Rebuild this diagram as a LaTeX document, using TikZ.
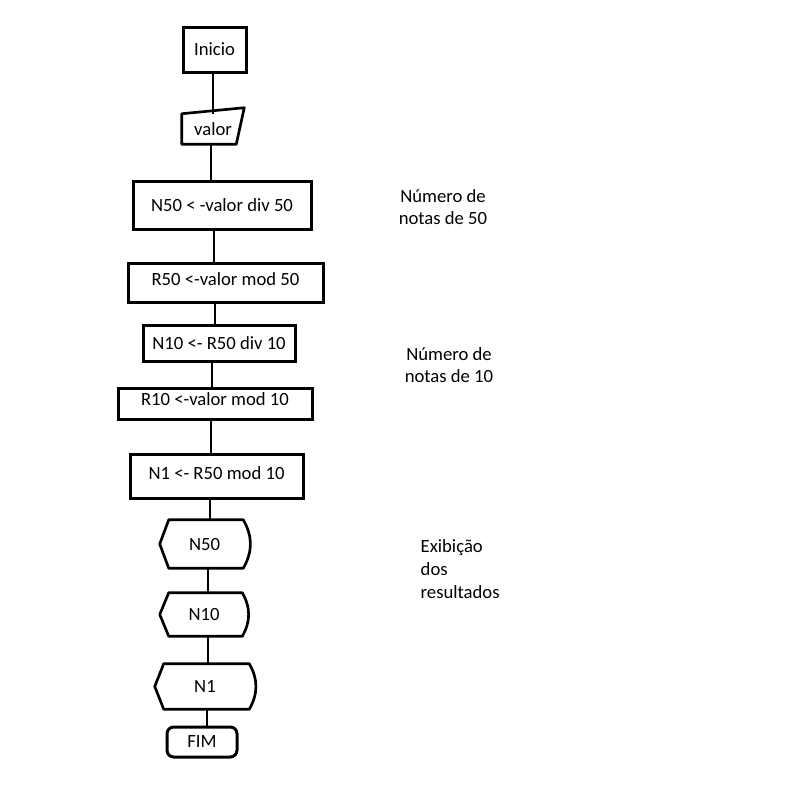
\documentclass[tikz,border=0pt]{standalone}
\usepackage{fontspec}
\setmainfont{Carlito}
\usepackage{tikz}

\begin{document}
\begin{tikzpicture}[x=0.75pt, y=-0.75pt, font=\fontsize{14}{17}\selectfont,
  procbox/.style={draw, line width=2.25pt, inner sep=0pt},
  shapebox/.style={inner sep=0pt},
  outline/.style={line width=2pt, line join=round},
  link/.style={line width=0.8pt}]

  \useasboundingbox (0,0) rectangle (798,807);

  % nodes
  \node[procbox, minimum width=47.25pt, minimum height=33.75pt] (inicio) at (214.5,49.5) {Inicio};
  \node[shapebox, minimum width=46.5pt, minimum height=22.5pt] (valor) at (213,129) {valor};
  \node[procbox, minimum width=133.5pt, minimum height=36pt] (n50) at (222,205) {N50 < -valor div 50};
  \node[procbox, text depth=5pt, minimum width=146.25pt, minimum height=29.25pt] (r50) at (225.5,282.5) {R50 <-valor mod 50};
  \node[procbox, minimum width=114pt, minimum height=27pt] (n10) at (219,343) {N10 <- R50 div 10};
  \node[procbox, text depth=6pt, minimum width=145.5pt, minimum height=23.25pt] (r10) at (215,403.5) {R10 <-valor mod 10};
  \node[procbox, text depth=5pt, minimum width=129.75pt, minimum height=33pt] (n1) at (216.5,476) {N1 <- R50 mod 10};
  \node[shapebox, minimum width=66.75pt, minimum height=36pt] (out50) at (204.5,544) {N50};
  \node[shapebox, minimum width=66pt, minimum height=32.25pt] (out10) at (204,614.5) {N10};
  \node[shapebox, minimum width=75pt, minimum height=33.75pt] (out1) at (205,686.5) {N1};
  \node[procbox, rounded corners=5pt, minimum width=52.5pt, minimum height=22.5pt] (fim) at (202,742) {FIM};

  % shapes
  \draw[outline] (valor.north west) -- ([yshift=4.5pt]valor.north east)
    -- ([xshift=-6pt]valor.south east) -- (valor.south west) -- cycle;
  \foreach \d in {out50,out10,out1}
    \draw[outline] ([xshift=6.75pt]\d.north west) -- ([xshift=-4.5pt]\d.north east)
      to[bend left=30] ([xshift=-4.5pt]\d.south east)
      -- ([xshift=6.75pt]\d.south west) -- (\d.west) -- cycle;

  % arrows
  \foreach \a/\b/\x in {inicio/valor/213, valor/n50/211, n50/r50/214, r50/n10/215,
      n10/r10/212, r10/n1/211, n1/out50/210, out50/out10/208, out10/out1/208, out1/fim/207}
    \draw[link] (\x,0 |- \a.south) -- (\x,0 |- \b.north);

  % labels
  \node[align=center] (note50) at (443,207) {Número de\\notas de 50};
  \node[align=center] (note10) at (449,365) {Número de\\notas de 10};
  \node[align=left, anchor=west] (noteout) at (416,569) {Exibição\\dos\\resultados};

\end{tikzpicture}
\end{document}
